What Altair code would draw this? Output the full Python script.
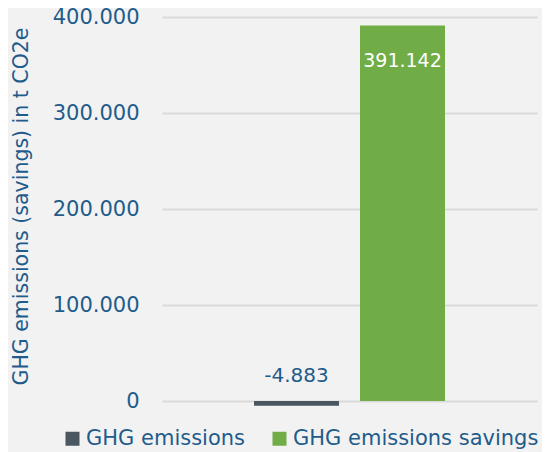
import altair as alt
import pandas as pd

series = ["GHG emissions", "GHG emissions savings"]
values = [-4883, 391142]
bar_colors = ["#4A5660", "#70AD47"]
tick_values = [0, 100000, 200000, 300000, 400000]

BLUE = "#1F5C8B"
FONT = "DejaVu Sans"

df = pd.DataFrame({"series": series, "value": values})

fmt = "replace(replace(format(datum.value, ',d'), ',', '.'), '\u2212', '-')"

x_enc = alt.X(
    "series:N",
    sort=series,
    axis=None,
    scale=alt.Scale(paddingInner=0.198, paddingOuter=0.868),
)

bars = alt.Chart(df).mark_bar().encode(
    x=x_enc,
    y=alt.Y(
        "value:Q",
        scale=alt.Scale(domain=[-8333, 400000], nice=False, zero=False),
        axis=alt.Axis(
            values=tick_values,
            labelExpr=fmt,
            title="GHG emissions (savings) in t CO2e",
            titleX=-141,
            titleY=189,
            titleAngle=-90,
            titleBaseline="middle",
            titleAlign="center",
            titleFontSize=20.5,
            titleFontWeight="normal",
            titleColor=BLUE,
            titleFont=FONT,
            labelFontSize=21,
            labelColor=BLUE,
            labelFont=FONT,
            labelPadding=23,
            ticks=False,
            domain=False,
            grid=True,
            gridColor="#D9D9D9",
            gridWidth=1.8,
        ),
    ),
    color=alt.Color(
        "series:N",
        sort=series,
        scale=alt.Scale(domain=series, range=bar_colors),
        legend=alt.Legend(
            title=None,
            orient="none",
            legendX=-100,
            legendY=411,
            direction="horizontal",
            columns=2,
            symbolType="square",
            symbolSize=196,
            symbolStrokeWidth=0,
            symbolOpacity=1,
            labelFontSize=21,
            labelColor=BLUE,
            labelFont=FONT,
            labelOffset=3,
            columnPadding=23,
            labelLimit=400,
        ),
    ),
)

neg_text = alt.Chart(df).transform_filter("datum.value < 0").transform_calculate(
    label=fmt
).mark_text(
    dy=-25, fontSize=20, color=BLUE, font=FONT, baseline="middle"
).encode(x=x_enc, y=alt.datum(0), text="label:N")

pos_text = alt.Chart(df).transform_filter("datum.value >= 0").transform_calculate(
    label=fmt
).mark_text(
    dy=35, fontSize=19, color="#FFFFFF", font=FONT, baseline="middle"
).encode(x=x_enc, y="value:Q", text="label:N")

chart = alt.layer(bars, neg_text, pos_text).properties(
    width=375,
    height=392,
    background="#F2F2F2",
    padding={"left": 154, "top": 9, "right": 5, "bottom": 43},
    autosize=alt.AutoSizeParams(type="none"),
).configure_view(stroke=None)

chart.save("out.html", embed_options={"renderer": "svg", "actions": False})
